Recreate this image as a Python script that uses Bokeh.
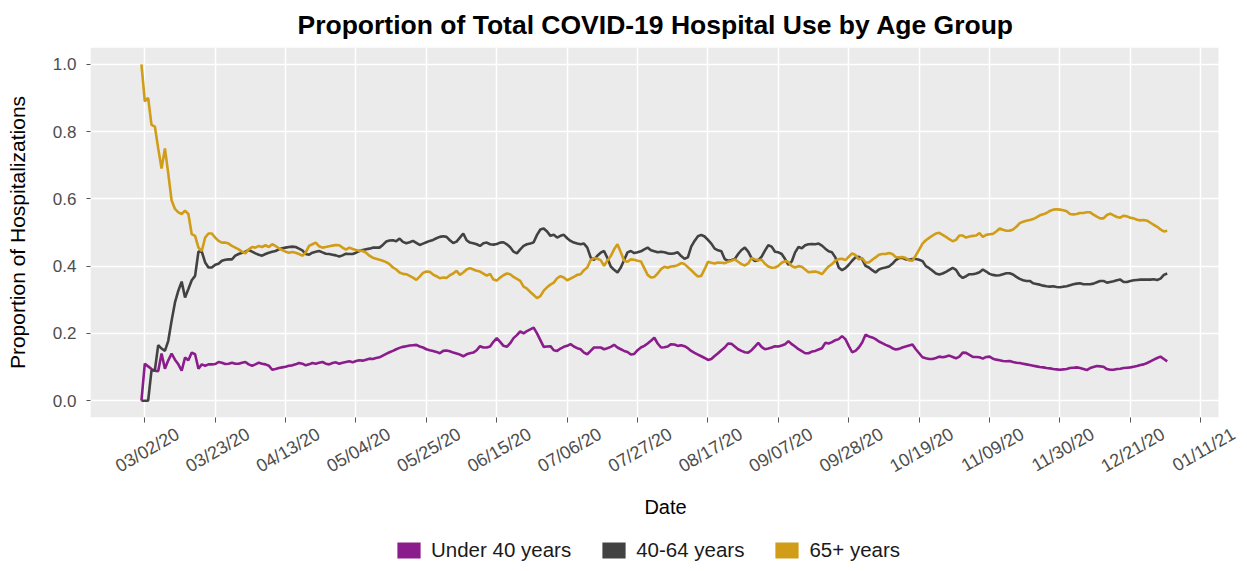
import pandas as pd
from bokeh.plotting import figure
from bokeh.layouts import column
from bokeh.models import (ColumnDataSource, Range1d, FixedTicker, Legend, LegendItem,
                          DatetimeAxis, CustomJSTickFormatter, PrintfTickFormatter)
from bokeh.embed import file_html
from bokeh.resources import INLINE

# ---------------- data (daily, from 2020-03-01) ----------------
start_date = "2020-03-01"

under_40 = [
    0.0, 0.11, 0.102, 0.094, 0.089, 0.088, 0.14, 0.095, 0.12, 0.14,
    0.122, 0.108, 0.089, 0.128, 0.12, 0.143, 0.138, 0.095, 0.108, 0.104,
    0.108, 0.108, 0.109, 0.115, 0.113, 0.109, 0.11, 0.113, 0.11, 0.11,
    0.113, 0.115, 0.108, 0.104, 0.108, 0.113, 0.11, 0.108, 0.104, 0.092,
    0.094, 0.097, 0.099, 0.101, 0.104,
    0.105, 0.108, 0.112, 0.11, 0.105, 0.108, 0.112, 0.11, 0.113, 0.115,
    0.11, 0.108, 0.112, 0.114, 0.11, 0.113, 0.115, 0.117, 0.114, 0.118,
    0.12, 0.119, 0.122, 0.125, 0.124, 0.127, 0.129, 0.134, 0.139, 0.144,
    0.148, 0.153, 0.157, 0.16, 0.162, 0.164, 0.165, 0.166, 0.161, 0.158,
    0.153, 0.15, 0.148, 0.145, 0.141, 0.148, 0.149, 0.147, 0.143, 0.14,
    0.137, 0.132, 0.138, 0.141, 0.143, 0.15, 0.162,
    0.158, 0.158, 0.161, 0.175, 0.186, 0.175, 0.163, 0.16, 0.171, 0.186,
    0.195, 0.206, 0.2, 0.207, 0.212, 0.217, 0.2, 0.18, 0.16, 0.161,
    0.162, 0.15, 0.148, 0.155, 0.16, 0.163, 0.168, 0.161, 0.156, 0.153,
    0.143, 0.138, 0.148, 0.158, 0.158, 0.158, 0.153, 0.156, 0.16, 0.166,
    0.158, 0.153, 0.148, 0.145, 0.137, 0.139, 0.15, 0.158, 0.163, 0.17,
    0.178, 0.187, 0.17, 0.158, 0.159, 0.161,
    0.168, 0.167, 0.163, 0.165, 0.162, 0.156, 0.148, 0.142, 0.137, 0.132,
    0.127, 0.121, 0.124, 0.133, 0.141, 0.15, 0.158, 0.17, 0.169, 0.161,
    0.153, 0.148, 0.144, 0.143, 0.15, 0.161, 0.172, 0.16, 0.153, 0.155,
    0.158, 0.162, 0.161, 0.164, 0.168, 0.177, 0.168, 0.161, 0.153, 0.147,
    0.141, 0.141, 0.146, 0.148, 0.152, 0.156, 0.172, 0.17, 0.174, 0.18,
    0.183, 0.192, 0.183, 0.163, 0.144, 0.148, 0.158,
    0.173, 0.196, 0.191, 0.188, 0.183, 0.176, 0.171, 0.166, 0.162, 0.156,
    0.152, 0.154, 0.158, 0.161, 0.164, 0.167, 0.153, 0.141, 0.129, 0.126,
    0.124, 0.124, 0.127, 0.131, 0.129, 0.131, 0.134, 0.13, 0.126, 0.131,
    0.143, 0.142, 0.136, 0.13, 0.13, 0.129, 0.125, 0.13, 0.131, 0.125,
    0.122, 0.12, 0.118, 0.117, 0.118, 0.115, 0.113, 0.112, 0.11, 0.108,
    0.106, 0.104, 0.102, 0.1, 0.099, 0.097, 0.096,
    0.094, 0.093, 0.092, 0.093, 0.094, 0.097, 0.098, 0.099, 0.097, 0.094,
    0.091, 0.097, 0.1, 0.103, 0.102, 0.101, 0.094, 0.092, 0.092, 0.094,
    0.095, 0.097, 0.098, 0.099, 0.101, 0.103, 0.106, 0.108, 0.112, 0.117,
    0.122, 0.127, 0.131, 0.124, 0.117,
]

age_40_64 = [
    0.0, 0.0, 0.0, 0.09, 0.09, 0.165, 0.155, 0.148, 0.178, 0.238,
    0.292, 0.327, 0.354, 0.307, 0.332, 0.358, 0.371, 0.443, 0.443, 0.411,
    0.396, 0.396, 0.404, 0.407, 0.416, 0.419, 0.42, 0.42, 0.431, 0.436,
    0.44, 0.443, 0.448, 0.443, 0.438, 0.434, 0.431, 0.436, 0.44, 0.443,
    0.445, 0.45, 0.453, 0.455, 0.457,
    0.458, 0.457, 0.452, 0.447, 0.436, 0.434, 0.44, 0.443, 0.445, 0.441,
    0.437, 0.436, 0.434, 0.432, 0.429, 0.432, 0.437, 0.436, 0.436, 0.44,
    0.445, 0.448, 0.45, 0.452, 0.455, 0.455, 0.455, 0.463, 0.473, 0.476,
    0.477, 0.474, 0.482, 0.472, 0.468, 0.471, 0.475, 0.469, 0.463, 0.467,
    0.471, 0.475, 0.478, 0.483, 0.487, 0.489, 0.487, 0.477, 0.469, 0.473,
    0.485, 0.497, 0.477, 0.47, 0.468, 0.465, 0.46,
    0.468, 0.47, 0.465, 0.464, 0.466, 0.47, 0.471, 0.465, 0.456, 0.443,
    0.438, 0.45, 0.46, 0.465, 0.467, 0.471, 0.493, 0.509, 0.512, 0.503,
    0.49, 0.493, 0.485, 0.49, 0.493, 0.483, 0.475, 0.47, 0.467, 0.465,
    0.467, 0.455, 0.426, 0.418, 0.431, 0.44, 0.445, 0.424, 0.399, 0.389,
    0.381, 0.396, 0.418, 0.441, 0.445, 0.439, 0.441, 0.444, 0.45, 0.455,
    0.447, 0.444, 0.441, 0.443, 0.441, 0.438,
    0.437, 0.438, 0.441, 0.43, 0.422, 0.426, 0.458, 0.475, 0.489, 0.493,
    0.488, 0.478, 0.467, 0.452, 0.447, 0.444, 0.421, 0.416, 0.418, 0.421,
    0.436, 0.448, 0.455, 0.443, 0.424, 0.415, 0.418, 0.428, 0.446, 0.462,
    0.458, 0.443, 0.441, 0.436, 0.421, 0.404, 0.414, 0.441, 0.457, 0.453,
    0.462, 0.465, 0.466, 0.465, 0.467, 0.461, 0.452, 0.444, 0.441, 0.426,
    0.396, 0.388, 0.394, 0.404, 0.416, 0.426, 0.428,
    0.421, 0.401, 0.396, 0.388, 0.381, 0.39, 0.394, 0.396, 0.399, 0.407,
    0.418, 0.424, 0.425, 0.42, 0.419, 0.421, 0.421, 0.419, 0.415, 0.4,
    0.394, 0.386, 0.378, 0.375, 0.378, 0.383, 0.389, 0.395, 0.389, 0.373,
    0.365, 0.37, 0.376, 0.376, 0.378, 0.382, 0.39, 0.384, 0.377, 0.374,
    0.372, 0.373, 0.376, 0.379, 0.379, 0.375, 0.368, 0.362, 0.358, 0.356,
    0.356, 0.349, 0.347, 0.345, 0.342, 0.34, 0.339,
    0.34, 0.338, 0.337, 0.339, 0.34, 0.343, 0.346, 0.348, 0.349, 0.346,
    0.346, 0.346, 0.348, 0.352, 0.356, 0.356, 0.351, 0.353, 0.355, 0.358,
    0.36, 0.353, 0.353, 0.356, 0.358, 0.359, 0.36, 0.36, 0.36, 0.36,
    0.361, 0.359, 0.363, 0.374, 0.378,
]

age_65_plus = [
    1.0, 0.89, 0.90, 0.82, 0.815, 0.75, 0.69, 0.75, 0.675, 0.595,
    0.57, 0.56, 0.555, 0.565, 0.555, 0.495, 0.49, 0.455, 0.445, 0.485,
    0.497, 0.497, 0.485, 0.475, 0.47, 0.47, 0.467, 0.46, 0.455, 0.45,
    0.443, 0.438, 0.45, 0.457, 0.455, 0.46, 0.457, 0.462, 0.457, 0.465,
    0.46, 0.453, 0.448, 0.443, 0.44,
    0.442, 0.44, 0.436, 0.431, 0.441, 0.46, 0.465, 0.47, 0.459, 0.455,
    0.457, 0.459, 0.461, 0.463, 0.462, 0.455, 0.449, 0.455, 0.451, 0.448,
    0.446, 0.445, 0.44, 0.431, 0.425, 0.422, 0.419, 0.416, 0.412, 0.406,
    0.396, 0.39, 0.381, 0.377, 0.376, 0.371, 0.366, 0.359, 0.369, 0.38,
    0.384, 0.383, 0.375, 0.37, 0.364, 0.366, 0.365, 0.373, 0.378, 0.386,
    0.374, 0.381, 0.39, 0.394, 0.39, 0.386, 0.384,
    0.378, 0.372, 0.377, 0.36, 0.357, 0.366, 0.373, 0.378, 0.376, 0.368,
    0.362, 0.356, 0.339, 0.333, 0.323, 0.314, 0.305, 0.311, 0.327, 0.337,
    0.345, 0.351, 0.364, 0.37, 0.366, 0.358, 0.363, 0.368, 0.374, 0.376,
    0.388, 0.396, 0.418, 0.424, 0.422, 0.418, 0.401, 0.416, 0.43, 0.45,
    0.465, 0.441, 0.416, 0.413, 0.42, 0.419, 0.416, 0.414, 0.394, 0.374,
    0.366, 0.368, 0.378, 0.391, 0.398, 0.395,
    0.399, 0.4, 0.403, 0.409, 0.406, 0.397, 0.388, 0.378, 0.369, 0.371,
    0.391, 0.413, 0.41, 0.408, 0.411, 0.41, 0.409, 0.413, 0.416, 0.42,
    0.413, 0.406, 0.402, 0.408, 0.424, 0.42, 0.418, 0.419, 0.407, 0.399,
    0.395, 0.396, 0.401, 0.41, 0.415, 0.412, 0.4, 0.396, 0.4, 0.398,
    0.39, 0.382, 0.383, 0.384, 0.381, 0.376, 0.388, 0.399, 0.406, 0.416,
    0.421, 0.422, 0.418, 0.428, 0.438, 0.433, 0.42,
    0.424, 0.411, 0.411, 0.419, 0.426, 0.434, 0.436, 0.436, 0.439, 0.436,
    0.427, 0.426, 0.427, 0.424, 0.417, 0.416, 0.432, 0.449, 0.467, 0.477,
    0.484, 0.491, 0.497, 0.499, 0.493, 0.487, 0.48, 0.474, 0.478, 0.491,
    0.491, 0.485, 0.488, 0.49, 0.491, 0.498, 0.487, 0.493, 0.495, 0.496,
    0.503, 0.512, 0.508, 0.505, 0.505, 0.509, 0.517, 0.528, 0.532, 0.535,
    0.537, 0.54, 0.545, 0.551, 0.554, 0.558, 0.564,
    0.568, 0.569, 0.568, 0.566, 0.563, 0.555, 0.554, 0.555, 0.558, 0.558,
    0.56, 0.56, 0.553, 0.547, 0.542, 0.542, 0.552, 0.556, 0.551, 0.546,
    0.544, 0.55, 0.548, 0.544, 0.542, 0.538, 0.536, 0.537, 0.535, 0.529,
    0.523, 0.517, 0.509, 0.503, 0.505,
]

series_names = ["Under 40 years", "40-64 years", "65+ years"]
series_colors = ["#8B1C8C", "#424242", "#D19C17"]

tick_labels = ["03/02/20", "03/23/20", "04/13/20", "05/04/20", "05/25/20", "06/15/20",
               "07/06/20", "07/27/20", "08/17/20", "09/07/20", "09/28/20", "10/19/20",
               "11/09/20", "11/30/20", "12/21/20", "01/11/21"]
y_ticks = [0.0, 0.2, 0.4, 0.6, 0.8, 1.0]

FONT = "Liberation Sans"
W = 1240
PANEL_L, PANEL_R = 90, 1218           # grey panel edges (px)
DAY = pd.Timedelta(days=1)

# ---------------- main figure ----------------
origin = pd.Timestamp("2020-03-02")
x_start = origin - 16.2 * DAY
panel_days = 336.5
px_per_day = (PANEL_R - PANEL_L) / panel_days
x_panel_end = x_start + panel_days * DAY
x_end = x_start + ((W - PANEL_L) / px_per_day) * DAY   # frame runs to figure edge (room for last label)

p = figure(width=W, height=530, x_axis_type="datetime",
           x_range=Range1d(start=x_start, end=x_end), y_range=Range1d(-0.05, 1.05),
           output_backend="svg", toolbar_location=None,
           min_border_left=PANEL_L, min_border_right=0, min_border_top=47, min_border_bottom=113,
           title="Proportion of Total COVID-19 Hospital Use by Age Group")

p.title.text_font = FONT
p.title.text_font_size = "26.5px"
p.title.text_font_style = "bold"
p.title.text_color = "#000000"
p.title.align = "left"
p.title.offset = 207
p.title.text_line_height = 1.0
p.title.standoff = 15

# frame itself is white; the grey ggplot panel is a background quad under the grid
p.background_fill_color = "white"
p.border_fill_color = "white"
p.outline_line_color = None

panel_src = ColumnDataSource(dict(l=[x_start], r=[x_panel_end], b=[-0.05], t=[1.05]))
p.quad(left="l", right="r", bottom="b", top="t", source=panel_src,
       fill_color="#EBEBEB", line_color=None, level="image")

tick_dates = pd.to_datetime(tick_labels, format="%m/%d/%y")
tick_ms = [t.timestamp() * 1000.0 for t in tick_dates]

for g, tk in ((p.xgrid, tick_ms), (p.ygrid, y_ticks)):
    g.ticker = FixedTicker(ticks=tk)
    g.grid_line_color = "white"
    g.grid_line_width = 1.5
    g.minor_grid_line_color = None

# y axis
ya = p.yaxis[0]
ya.ticker = FixedTicker(ticks=y_ticks)
ya.formatter = PrintfTickFormatter(format="%.1f")
ya.axis_label = "Proportion of Hospitalizations"
ya.axis_label_text_font = FONT
ya.axis_label_text_font_size = "21px"
ya.axis_label_text_font_style = "normal"
ya.axis_label_text_color = "#000000"
ya.axis_label_standoff = 21
ya.major_label_text_font = FONT
ya.major_label_text_font_size = "17px"
ya.major_label_text_color = "#4D4D4D"
ya.major_label_standoff = 10
ya.major_tick_out = 4
ya.major_tick_in = 0
ya.major_tick_line_color = "#555555"
ya.minor_tick_line_color = None
ya.axis_line_color = None

# x axis: tick marks only
xa = p.xaxis[0]
xa.ticker = FixedTicker(ticks=tick_ms)
xa.formatter = CustomJSTickFormatter(code="return ''")
xa.major_label_text_font_size = "1px"
xa.major_label_standoff = 0
xa.major_tick_out = 5
xa.major_tick_in = 0
xa.major_tick_line_color = "#555555"
xa.minor_tick_line_color = None
xa.axis_line_color = None

# x tick labels: rotated 30 deg, centred under each tick (ggplot style).
# Bokeh anchors rotated labels at their right end, so this label axis uses a
# range shifted by the half-width of a label.
shift = 9.8 * DAY
p.extra_x_ranges = {"labels": Range1d(start=x_start - shift, end=x_end - shift)}
lab_axis = DatetimeAxis(x_range_name="labels")
lab_axis.ticker = FixedTicker(ticks=tick_ms)
lab_axis.formatter = CustomJSTickFormatter(args=dict(tv=tick_ms, tt=tick_labels),
                                           code="const i = tv.indexOf(tick); return i >= 0 ? tt[i] : '';")
lab_axis.major_label_orientation = 0.5235987755982988
lab_axis.major_label_text_font = FONT
lab_axis.major_label_text_font_size = "18px"
lab_axis.major_label_text_color = "#4D4D4D"
lab_axis.major_label_standoff = 10
lab_axis.major_tick_out = 0
lab_axis.major_tick_in = 0
lab_axis.major_tick_line_color = None
lab_axis.minor_tick_line_color = None
lab_axis.axis_line_color = None
p.add_layout(lab_axis, "below")

# axis title "Date", centred under the grey panel
title_axis = DatetimeAxis(ticker=FixedTicker(ticks=[]),
                          bounds=(x_start.timestamp() * 1000.0, x_panel_end.timestamp() * 1000.0))
title_axis.formatter = CustomJSTickFormatter(code="return ''")
title_axis.major_label_text_font_size = "1px"
title_axis.major_label_standoff = 0
title_axis.major_tick_out = 0
title_axis.major_tick_in = 0
title_axis.major_tick_line_color = None
title_axis.minor_tick_line_color = None
title_axis.axis_line_color = None
title_axis.axis_label = "Date"
title_axis.axis_label_text_font = FONT
title_axis.axis_label_text_font_size = "20px"
title_axis.axis_label_text_font_style = "normal"
title_axis.axis_label_text_color = "#000000"
title_axis.axis_label_standoff = 8
p.add_layout(title_axis, "below")

# lines
for name, vals, color in zip(series_names, [under_40, age_40_64, age_65_plus], series_colors):
    src = ColumnDataSource(dict(date=pd.date_range(start_date, periods=len(vals), freq="D"), v=vals))
    p.line(x="date", y="v", source=src, line_color=color, line_width=2.6)

# ---------------- legend strip ----------------
p2 = figure(width=W, height=41, x_axis_type=None, y_axis_type=None,
            output_backend="svg", toolbar_location=None, min_border=0,
            x_range=Range1d(0, 1), y_range=Range1d(0, 1))
p2.outline_line_color = None
p2.background_fill_color = "white"
p2.border_fill_color = "white"

legend_items = []
for name, color in zip(series_names, series_colors):
    # key swatch renderer, kept outside the strip's visible range
    swatch = p2.quad(left="l", right="r", top="t", bottom="b",
                     source=ColumnDataSource(dict(l=[5], r=[6], t=[6], b=[5])),
                     fill_color=color, line_color=None)
    legend_items.append(LegendItem(label=name, renderers=[swatch]))

legend = Legend(items=legend_items, location=(394 - PANEL_L, 9), orientation="horizontal",
                glyph_width=29, glyph_height=20, label_standoff=8, spacing=28,
                padding=0, margin=0, border_line_color=None, background_fill_alpha=0,
                label_text_font=FONT, label_text_font_size="20.5px", label_text_color="#1A1A1A")
p2.add_layout(legend)

layout = column(p, p2, spacing=0)
open("out.html", "w").write(file_html(layout, INLINE))
